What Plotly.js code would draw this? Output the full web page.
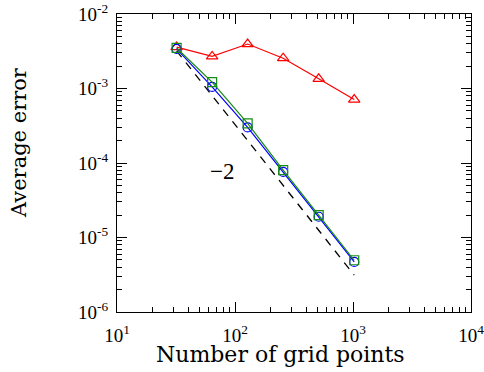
<!DOCTYPE html>
<html>
<head>
<meta charset="utf-8">
<script src="https://cdn.plot.ly/plotly-3.0.1.min.js"></script>
<style>html,body{margin:0;padding:0;background:#fff;}#chart{width:484px;height:372px;}</style>
</head>
<body>
<div id="chart"></div>
<script>
const gridPoints = [32, 64, 128, 256, 512, 1024];
const errRed   = [3.6e-3, 2.7e-3, 3.95e-3, 2.55e-3, 1.35e-3, 7.1e-4];
const errGreen = [3.5e-3, 1.22e-3, 3.4e-4, 8.0e-5, 2.0e-5, 4.95e-6];
const errBlue  = [3.4e-3, 1.05e-3, 3.0e-4, 7.6e-5, 1.9e-5, 4.7e-6];
const refX = [32, 1024];
const refY = [3.2e-3, 3.2e-3 * Math.pow(32/1024, 2)];
const xTickVals = [10, 100, 1000, 10000];
const xTickText = ['10<sup>1</sup>', '10<sup>2</sup>', '10<sup>3</sup>', '10<sup>4</sup>'];
const yTickVals = [1e-6, 1e-5, 1e-4, 1e-3, 1e-2];
const yTickText = ['10<sup>-6</sup>', '10<sup>-5</sup>', '10<sup>-4</sup>', '10<sup>-3</sup>', '10<sup>-2</sup>'];
const xTitle = 'Number of grid points';
const yTitle = 'Average error';
const slopeLabel = '\u22122';

// minor tick positions (2..9 within each decade)
function minorTicks(decades) {
  const out = [];
  for (let i = 0; i < decades.length - 1; i++)
    for (let m = 2; m <= 9; m++) out.push(decades[i] * m);
  return out;
}
const xMinor = minorTicks(xTickVals);
const yMinor = minorTicks(yTickVals);

const font = 'Liberation Serif, DejaVu Serif, serif';
const titleFont = 'DejaVu Serif, Liberation Serif, serif';
const traces = [
  {x: refX, y: refY, mode: 'lines', line: {color: '#000', width: 1.3, dash: '8px,7px'}, hoverinfo: 'skip'},
  {x: gridPoints, y: errRed, mode: 'lines+markers', line: {color: '#ff0000', width: 1.2},
   marker: {symbol: 'triangle-up-open', size: 10, color: '#ff0000', line: {width: 1.2}}},
  {x: gridPoints, y: errBlue, mode: 'lines+markers', line: {color: '#0000ff', width: 1.2},
   marker: {symbol: 'circle-open', size: 9, color: '#0000ff', line: {width: 1.2}}},
  {x: gridPoints, y: errGreen, mode: 'lines+markers', line: {color: '#148c14', width: 1.2},
   marker: {symbol: 'square-open', size: 9, color: '#148c14', line: {width: 1.2}}}
];
const axisCommon = {
  showline: true, linecolor: '#000', linewidth: 1, mirror: 'ticks',
  ticks: 'inside', ticklen: 10, tickwidth: 1, tickcolor: '#000',
  showgrid: false, zeroline: false, ticklabeloverflow: 'allow',
  tickfont: {family: font, size: 19, color: '#000'}
};
const minorCommon = {
  showline: false, mirror: 'ticks', ticks: 'inside', ticklen: 5, tickwidth: 1, tickcolor: '#000',
  showgrid: false, zeroline: false, showticklabels: false, tickmode: 'array'
};
const layout = {
  width: 484, height: 372,
  margin: {l: 117, r: 13, t: 14, b: 60},
  paper_bgcolor: '#fff', plot_bgcolor: '#fff',
  showlegend: false,
  xaxis: Object.assign({}, axisCommon, {
    type: 'log', range: [1, 4], tickmode: 'array', tickvals: xTickVals, ticktext: xTickText,
    ticklabelstandoff: 6
  }),
  yaxis: Object.assign({}, axisCommon, {
    type: 'log', range: [-6, -2], tickmode: 'array', tickvals: yTickVals, ticktext: yTickText,
    ticklabelstandoff: 4
  }),
  xaxis2: Object.assign({}, minorCommon, {type: 'log', range: [1, 4], overlaying: 'x', side: 'bottom', anchor: 'y', tickvals: xMinor}),
  yaxis2: Object.assign({}, minorCommon, {type: 'log', range: [-6, -2], overlaying: 'y', side: 'left', anchor: 'x', tickvals: yMinor}),
  annotations: [
    {x: Math.log10(78), y: Math.log10(7.6e-5), xref: 'x', yref: 'y', text: slopeLabel,
     showarrow: false, font: {family: font, size: 23, color: '#000'}},
    {x: 280, y: 354, xref: 'paper', yref: 'paper', xanchor: 'center', yanchor: 'middle', text: xTitle, showarrow: false,
     font: {family: titleFont, size: 22, color: '#000'}},
    {x: 19, y: 143, xref: 'paper', yref: 'paper', xanchor: 'center', yanchor: 'middle', text: yTitle, showarrow: false, textangle: -90,
     font: {family: titleFont, size: 21, color: '#000'}}
  ]
};
// invisible trace to activate the minor-tick axes
traces.push({x: [10, 10000], y: [1e-6, 1e-2], xaxis: 'x2', yaxis: 'y2', mode: 'markers',
  marker: {opacity: 0}, hoverinfo: 'skip'});
// convert title pixel positions to paper fractions
const pw = 484 - 117 - 13, ph = 372 - 14 - 60;
layout.annotations[1].x = (layout.annotations[1].x - 117) / pw;
layout.annotations[1].y = (372 - 60 - layout.annotations[1].y) / ph;
layout.annotations[2].x = (layout.annotations[2].x - 117) / pw;
layout.annotations[2].y = (372 - 60 - layout.annotations[2].y) / ph;
Plotly.newPlot('chart', traces, layout, {staticPlot: true});
</script>
</body>
</html>
